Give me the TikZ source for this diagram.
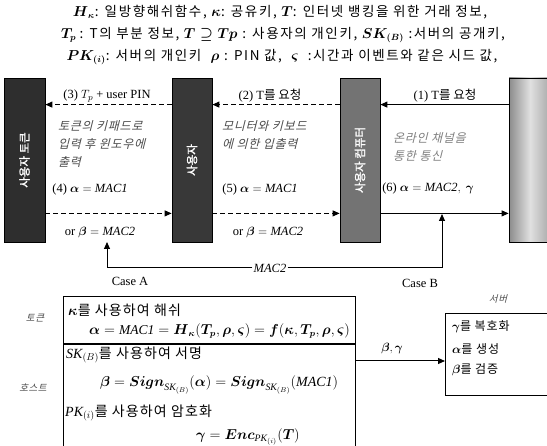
\documentclass[tikz,border=0pt]{standalone}
\usepackage{amsmath,amssymb}
\usepackage{fontspec}
\setmainfont{Liberation Serif}
\newfontfamily\kr{Noto Sans CJK KR}
\newfontfamily\krs[LetterSpace=12]{Noto Sans CJK KR}
\newfontfamily\kri[FakeSlant=0.25,LetterSpace=6]{Noto Sans CJK KR}
\newfontfamily\krw[LetterSpace=8]{Noto Sans CJK KR}
\newfontfamily\krb[FakeBold=1.5]{Noto Sans CJK KR}
\usetikzlibrary{arrows.meta}
\newcommand{\ga}{\boldsymbol{\alpha}}
\newcommand{\gb}{\boldsymbol{\beta}}
\newcommand{\gc}{\boldsymbol{\gamma}}
\newcommand{\gk}{\boldsymbol{\kappa}}
\newcommand{\gr}{\boldsymbol{\rho}}
\newcommand{\gs}{\boldsymbol{\varsigma}}
\begin{document}
\begin{tikzpicture}[x=1pt,y=-1pt,
  bar/.style={draw=black, line width=0.8pt, minimum width=40pt, minimum height=164pt, inner sep=0pt},
  bartext/.style={rotate=90, text=white, font=\krb\fontsize{11.5}{13}\selectfont},
  arr/.style={line width=1pt, -{Triangle[length=7pt,width=6pt]}},
  darr/.style={arr, dashed, dash pattern=on 5pt off 3pt},
  lbl/.style={font=\fontsize{12.5}{14}\selectfont, inner sep=1pt},
  itk/.style={font=\kri\fontsize{12}{18}\selectfont, text=black!70, align=left, anchor=north west, inner sep=0pt},
  boxt/.style={font=\krw\fontsize{14}{16}\selectfont, anchor=west, inner sep=0pt},
  hdr/.style={font=\fontsize{13.5}{15}\selectfont, inner sep=0pt},
  sect/.style={draw, line width=1pt, anchor=north west, inner sep=0pt}]
\useasboundingbox (0,0) rectangle (547,446);
\fill[white] (0,0) rectangle (547,446);
% header
\node[hdr] (h1) at (280,12) {$\boldsymbol{H}_{\gk}$\krs: 일방향해쉬함수, $\gk$\krs: 공유키, $\boldsymbol{T}$\krs: 인터넷 뱅킹을 위한 거래 정보,};
\node[hdr] (h2) at (283,35) {$\boldsymbol{T_p}$ \krs: T의 부분 정보, $\boldsymbol{T\supseteq Tp}$ \krs: 사용자의 개인키, $\boldsymbol{SK_{(B)}}$ \krs:서버의 공개키,};
\node[hdr] (h3) at (282,57) {$\boldsymbol{PK_{(i)}}$\krs: 서버의 개인키 \ $\gr$ \krs: PIN 값, \ $\gs$ \ \krs:시간과 이벤트와 같은 시드 값,};
% bars
\node[bar, fill=black!82, minimum width=41pt] (b1) at (24.5,160) {};
\node[bartext] at (b1) {사용자 토큰};
\node[bar, fill=black!78] (b2) at (192,160) {};
\node[bartext] at (b2) {사용자};
\node[bar, fill=black!55] (b3) at (360,160) {};
\node[bartext] at (b3) {사용자 컴퓨터};
\node[bar, left color=black!45, right color=black!35, middle color=black!12, minimum width=42pt] (b4) at (530,160) {};
% top arrows
\draw[arr] ([yshift=-27pt]b4.north west) -- ([yshift=-27pt]b3.north east);
\draw[darr] ([yshift=-27pt]b3.north west) -- ([yshift=-27pt]b2.north east);
\draw[darr] ([yshift=-27pt]b2.north west) -- ([yshift=-27pt]b1.north east);
\node[lbl] (l1) at (445,96) {(1) T\kr 를 요청};
\node[lbl] (l2) at (270,96) {(2) T\kr 를 요청};
\node[lbl] (l3) at (107,96) {(3) $T_p$ + user PIN};
% italic notes
\node[itk] (n1) at (58,120) {토큰의 키패드로\\입력 후 윈도우에\\출력};
\node[itk] (n2) at (222,120) {모니터와 키보드\\에 의한 입출력};
\node[itk, text=black!50] (n3) at (393,132) {온라인 채널을\\통한 통신};
% bottom arrows
\draw[darr] ([yshift=29pt]b1.south east) -- ([yshift=29pt]b2.south west);
\draw[darr] ([yshift=29pt]b2.south east) -- ([yshift=29pt]b3.south west);
\draw[arr] ([yshift=29pt]b3.south east) -- ([yshift=29pt]b4.south west);
\node[lbl] (l4) at (90,189) {(4) $\ga = \mathit{MAC1}$};
\node[lbl] (o4) at (100,233) {or $\gb = \mathit{MAC2}$};
\node[lbl] (l5) at (260,189) {(5) $\ga = \mathit{MAC1}$};
\node[lbl] (o5) at (268,233) {or $\gb = \mathit{MAC2}$};
\node[lbl] (l6) at (428,188) {(6) $\ga = \mathit{MAC2},\ \gc$};
% MAC2 feedback
\coordinate (ca) at (107,242);
\coordinate (cb) at (442,214);
\node[lbl] (mac2) at (270,268) {$\mathit{MAC2}$};
\draw[arr] (mac2.west) -| (ca);
\draw[arr] (mac2.east) -| (cb);
\node[lbl] (casea) at (130,281) {Case A};
\node[lbl] (caseb) at (420,283) {Case B};
% lower boxes
\node[sect, minimum width=292pt, minimum height=47pt] (tok) at (63,296) {};
\node[sect, minimum width=292pt, minimum height=115pt] (host) at (tok.south west) {};
\node[font=\kri\fontsize{9.5}{11}\selectfont, text=black!70] (tl) at (35,318) {토큰};
\node[font=\kri\fontsize{9.5}{11}\selectfont, text=black!70] (hl) at (33,388) {호스트};
\node[boxt] (t1) at (68,310) {$\gk$를 사용하여 해쉬};
\node[boxt, font=\fontsize{13.5}{15}\selectfont] (t2) at (89,331) {$\ga = \mathit{MAC1} = \boldsymbol{H}_{\gk}(\boldsymbol{T_p},\gr,\gs) = \boldsymbol{f}(\gk,\boldsymbol{T_p},\gr,\gs)$};
\node[boxt] (t3) at (66,355) {$\mathit{SK}_{(B)}$를 사용하여 서명};
\node[boxt, font=\fontsize{14}{16}\selectfont] (t4) at (100,385) {$\gb = \boldsymbol{Sign}_{\mathit{SK}_{(B)}}(\ga) = \boldsymbol{Sign}_{\mathit{SK}_{(B)}}(\mathit{MAC1})$};
\node[boxt] (t5) at (65,413) {$\mathit{PK}_{(i)}$를 사용하여 암호화};
\node[boxt, font=\fontsize{14}{16}\selectfont] (t6) at (196,437) {$\gc = \boldsymbol{Enc}_{\mathit{PK}_{(i)}}(\boldsymbol{T})$};
% server box
\node[sect, line width=0.8pt, minimum width=104pt, minimum height=82pt] (srv) at (445,313) {};
\node[font=\kri\fontsize{9.5}{11}\selectfont, text=black!70] (sl) at (498,299) {서버};
\node[boxt, font=\krw\fontsize{12}{14}\selectfont] (s1) at (452,327) {$\gc$를 복호화};
\node[boxt, font=\krw\fontsize{12}{14}\selectfont] (s2) at (452,349) {$\ga$를 생성};
\node[boxt, font=\krw\fontsize{12}{14}\selectfont] (s3) at (452,370) {$\gb$를 검증};
\draw[arr] ([yshift=-17pt]tok.south east) -- ([yshift=-17pt]tok.south east -| srv.west);
\node[lbl, font=\fontsize{13}{15}\selectfont] (bg) at (392,349) {$\gb,\gc$};
\end{tikzpicture}
\end{document}
